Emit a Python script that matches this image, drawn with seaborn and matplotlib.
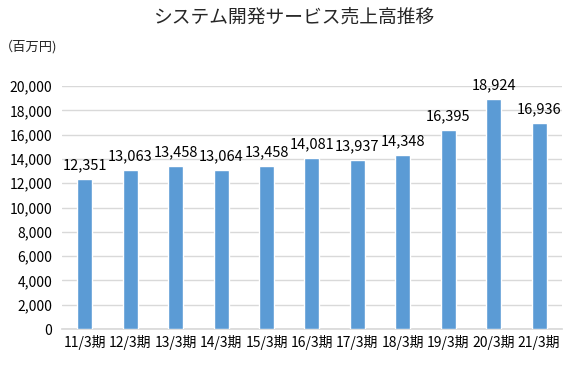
import matplotlib
matplotlib.use("Agg")
import matplotlib.pyplot as plt
import seaborn as sns
import pandas as pd

categories = ["11/3期", "12/3期", "13/3期", "14/3期", "15/3期", "16/3期",
              "17/3期", "18/3期", "19/3期", "20/3期", "21/3期"]
values = [12351, 13063, 13458, 13064, 13458, 14081, 13937, 14348, 16395, 18924, 16936]
yticks = [0, 2000, 4000, 6000, 8000, 10000, 12000, 14000, 16000, 18000, 20000]

sns.set_theme(style="white")
plt.rcParams['font.family'] = ['Noto Sans CJK JP', 'DejaVu Sans']

df = pd.DataFrame({"period": categories, "sales": values})

fig = plt.figure(figsize=(5.87, 3.66), dpi=100)
ax = fig.add_axes([0.106, 0.101, 0.851, 0.664])
sns.barplot(data=df, x="period", y="sales", color="#5B9BD5", saturation=1,
            width=0.33, ax=ax, zorder=3)

ax.set_ylim(0, 20000)
ax.set_yticks(yticks)
ax.set_yticklabels([f"{v:,}" for v in yticks], fontsize=10)
ax.set_xticks(range(len(categories)))
ax.set_xticklabels(categories, fontsize=10)
ax.set_xlim(-0.5, len(categories) - 0.5)
ax.yaxis.grid(True, color="#D9D9D9", linewidth=1, zorder=0)
ax.set_axisbelow(True)
for s in ["top", "right", "left"]:
    ax.spines[s].set_visible(False)
ax.spines["bottom"].set_color("#D9D9D9")
ax.tick_params(axis="y", length=0, pad=7, colors="black")
ax.tick_params(axis="x", length=0, pad=4, colors="black")
ax.set_xlabel("")
ax.set_ylabel("")

for i, v in enumerate(values):
    ax.text(i, v + 550, f"{v:,}", ha="center", va="bottom", fontsize=10.5,
            color="black", clip_on=False)

fig.text(0.5, 0.952, "システム開発サービス売上高推移", ha="center", va="center",
         fontsize=13.5)
fig.text(0.0, 0.872, "（百万円)", ha="left", va="center", fontsize=9.5)

fig.savefig("out.png", dpi=100)
